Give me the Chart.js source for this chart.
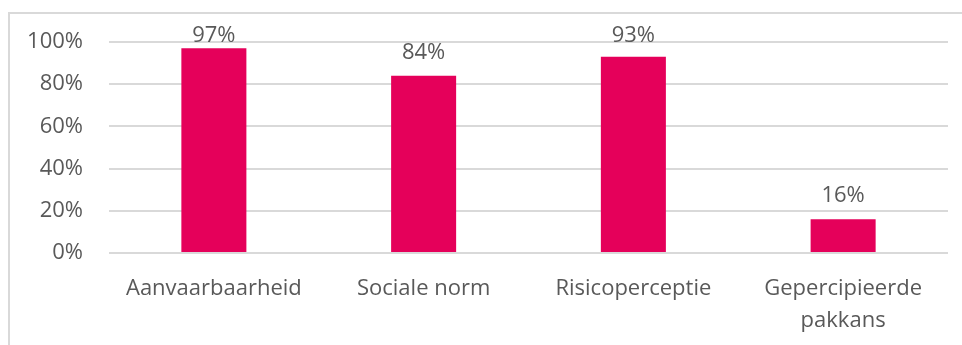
<!DOCTYPE html>
<html>
<head>
<meta charset="utf-8">
<script src="https://cdn.jsdelivr.net/npm/chart.js@4.4.0/dist/chart.umd.min.js"></script>
<style>
  html, body { margin: 0; padding: 0; background: #fff; }
  #wrap { position: relative; width: 962px; height: 345px; }
  #frame { position: absolute; left: 8px; top: 12px; right: -2px; bottom: -2px;
           border-left: 2px solid #d9d9d9; border-top: 2px solid #d9d9d9; }
  canvas { position: absolute; left: 0; top: 0; }
</style>
</head>
<body>
<div id="wrap">
  <div id="frame"></div>
  <canvas id="graph" width="962" height="345"></canvas>
</div>
<script>
// categorieen en waarden
var labels = ['Aanvaarbaarheid', 'Sociale norm', 'Risicoperceptie', ['Gepercipieerde', 'pakkans']];
var waarden = [97, 84, 93, 16];
var yTicks = [0, 20, 40, 60, 80, 100];

var textColor = '#595959';
var fontFam = '"Open Sans", "Noto Sans", sans-serif';

// labels boven de balken (binnen het plotgebied gehouden)
var barLabels = {
    id: 'barLabels',
    afterDatasetsDraw: function(chart) {
        var ctx = chart.ctx;
        var meta = chart.getDatasetMeta(0);
        ctx.save();
        ctx.fillStyle = textColor;
        ctx.font = '22px ' + fontFam;
        ctx.textAlign = 'center';
        ctx.textBaseline = 'alphabetic';
        meta.data.forEach(function(bar, i) {
            var y = Math.max(bar.y - 17, chart.chartArea.top);
            ctx.fillText(waarden[i] + '%', bar.x, y);
        });
        ctx.restore();
    }
};

var myChart = document.getElementById('graph').getContext('2d');
var barChart = new Chart(myChart, {
    type: 'bar',
    data: {
        labels: labels,
        datasets: [{
            data: waarden,
            backgroundColor: '#e5005a',
            barPercentage: 0.31,
            categoryPercentage: 1
        }]
    },
    options: {
        responsive: false,
        animation: false,
        layout: { padding: { left: 0, right: 14, top: 42, bottom: 0 } },
        plugins: { legend: { display: false }, tooltip: { enabled: false } },
        scales: {
            y: {
                min: 0,
                max: 100,
                afterFit: function(scale) { scale.width = 109; },
                afterBuildTicks: function(scale) {
                    scale.ticks = yTicks.map(function(v) { return { value: v }; });
                },
                border: { display: false },
                grid: { color: '#d9d9d9', lineWidth: 2, drawTicks: false },
                ticks: {
                    color: textColor,
                    padding: 26,
                    font: { size: 22, family: fontFam },
                    callback: function(v) { return v + '%'; }
                }
            },
            x: {
                afterFit: function(scale) { scale.height = 92; },
                border: { display: false },
                grid: { display: false, drawTicks: false },
                ticks: {
                    color: textColor,
                    padding: 20,
                    maxRotation: 0,
                    font: { size: 22, family: fontFam, lineHeight: 1.45 }
                }
            }
        }
    },
    plugins: [barLabels]
});
</script>
</body>
</html>
